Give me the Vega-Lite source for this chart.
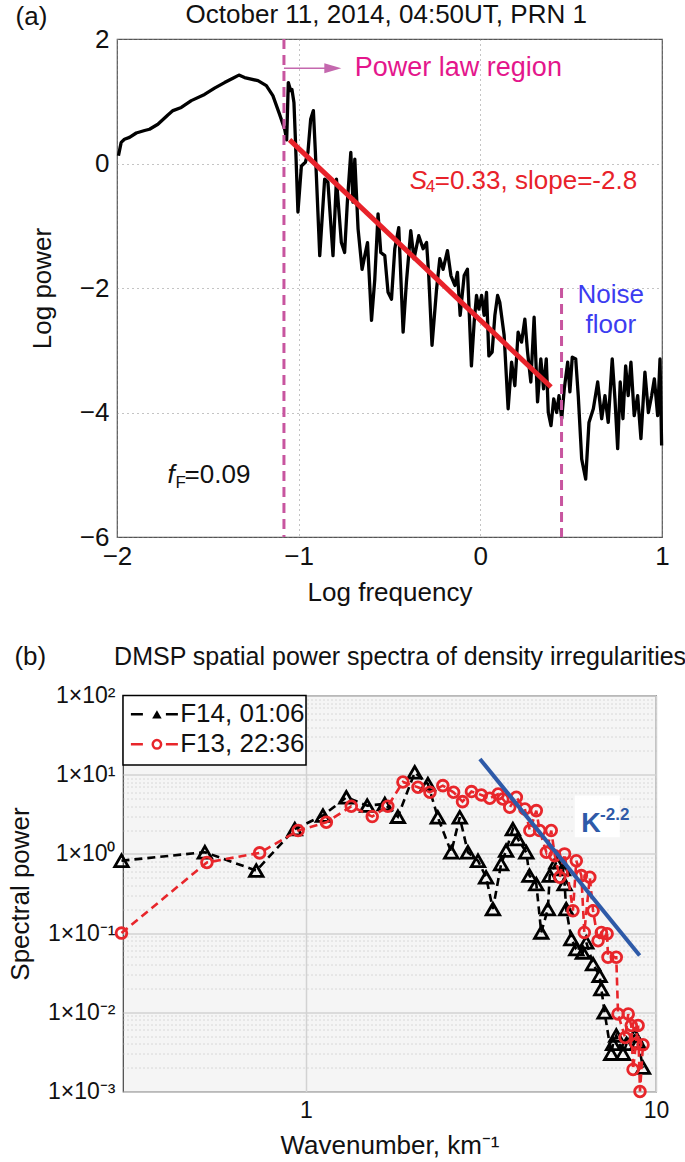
{
  "$schema": "https://vega.github.io/schema/vega-lite/v6.json",
  "background": "white",
  "padding": {"left": 6, "top": 0, "right": 0, "bottom": 5},
  "bounds": "flush",
  "center": true,
  "spacing": 158.5,
  "config": {
    "font": "Liberation Sans",
    "axis": {"labelFont": "Liberation Sans", "titleFont": "Liberation Sans", "labelFontSize": 25, "titleFontSize": 26, "titleFontWeight": "normal", "labelColor": "#111", "titleColor": "#111", "ticks": false, "domain": false, "labelFlush": false, "labelOverlap": false},
    "text": {"font": "Liberation Sans"}
  },
  "datasets": {
    "curve": [
      {"x": -1.992, "y": 0.125}, {"x": -1.977, "y": 0.34}, {"x": -1.959, "y": 0.39}, {"x": -1.931, "y": 0.42}, {"x": -1.894, "y": 0.49}, {"x": -1.848, "y": 0.53}, {"x": -1.821, "y": 0.55}, {"x": -1.775, "y": 0.63}, {"x": -1.72, "y": 0.78}, {"x": -1.692, "y": 0.85}, {"x": -1.646, "y": 0.9}, {"x": -1.591, "y": 1.01}, {"x": -1.518, "y": 1.11}, {"x": -1.463, "y": 1.21}, {"x": -1.408, "y": 1.3}, {"x": -1.362, "y": 1.37}, {"x": -1.329, "y": 1.42}, {"x": -1.298, "y": 1.38}, {"x": -1.224, "y": 1.33}, {"x": -1.178, "y": 1.25}, {"x": -1.142, "y": 1.09}, {"x": -1.105, "y": 0.79}, {"x": -1.077, "y": 0.55}, {"x": -1.066, "y": 0.38},
      {"x": -1.057, "y": 1.3}, {"x": -1.044, "y": 1.17}, {"x": -1.037, "y": 1.19}, {"x": -1.026, "y": 0.98}, {"x": -1.018, "y": 0.39}, {"x": -1.004, "y": -0.78}, {"x": -0.985, "y": -0.04}, {"x": -0.963, "y": 0.02}, {"x": -0.949, "y": 0.18}, {"x": -0.934, "y": 0.71}, {"x": -0.919, "y": 0.85}, {"x": -0.908, "y": 0.18}, {"x": -0.884, "y": -1.48}, {"x": -0.857, "y": -0.25}, {"x": -0.839, "y": -0.3}, {"x": -0.811, "y": -1.48}, {"x": -0.792, "y": -0.25}, {"x": -0.765, "y": -1.27}, {"x": -0.747, "y": -1.43}, {"x": -0.732, "y": -0.62}, {"x": -0.713, "y": 0.18}, {"x": -0.701, "y": -0.62}, {"x": -0.691, "y": 0.07}, {"x": -0.673, "y": -1.05}, {"x": -0.651, "y": -1.7}, {"x": -0.636, "y": -1.48}, {"x": -0.621, "y": -1.27}, {"x": -0.599, "y": -2.52}, {"x": -0.581, "y": -1.86}, {"x": -0.563, "y": -0.81}, {"x": -0.548, "y": -1.43}, {"x": -0.526, "y": -1.48}, {"x": -0.508, "y": -2.07}, {"x": -0.489, "y": -2.18}, {"x": -0.471, "y": -1.37}, {"x": -0.449, "y": -1.03}, {"x": -0.425, "y": -2.71}, {"x": -0.407, "y": -1.91}, {"x": -0.383, "y": -1.08}, {"x": -0.365, "y": -1.53}, {"x": -0.339, "y": -1.16}, {"x": -0.315, "y": -1.37}, {"x": -0.296, "y": -1.27}, {"x": -0.284, "y": -1.8}, {"x": -0.266, "y": -2.92}, {"x": -0.241, "y": -2.02}, {"x": -0.223, "y": -1.53}, {"x": -0.205, "y": -1.7}, {"x": -0.181, "y": -1.4}, {"x": -0.162, "y": -1.8}, {"x": -0.14, "y": -1.96}, {"x": -0.126, "y": -1.75}, {"x": -0.111, "y": -2.44}, {"x": -0.089, "y": -1.8}, {"x": -0.071, "y": -1.7}, {"x": -0.049, "y": -3.25}, {"x": -0.034, "y": -2.55}, {"x": -0.021, "y": -2.12}, {"x": -0.008, "y": -2.34}, {"x": 0.007, "y": -2.12}, {"x": 0.021, "y": -2.44}, {"x": 0.034, "y": -2.07}, {"x": 0.047, "y": -3.09}, {"x": 0.065, "y": -3.03}, {"x": 0.08, "y": -2.44}, {"x": 0.095, "y": -2.12}, {"x": 0.107, "y": -2.23}, {"x": 0.131, "y": -2.76}, {"x": 0.153, "y": -3.94}, {"x": 0.172, "y": -3.19}, {"x": 0.19, "y": -3.57}, {"x": 0.208, "y": -2.71}, {"x": 0.227, "y": -2.87}, {"x": 0.245, "y": -2.5}, {"x": 0.26, "y": -3.03}, {"x": 0.278, "y": -3.51}, {"x": 0.296, "y": -2.47}, {"x": 0.315, "y": -3.83}, {"x": 0.333, "y": -3.14}, {"x": 0.348, "y": -3.62}, {"x": 0.363, "y": -3.14}, {"x": 0.374, "y": -4.0}, {"x": 0.389, "y": -4.21}, {"x": 0.404, "y": -3.78}, {"x": 0.42, "y": -4.0}, {"x": 0.433, "y": -3.73}, {"x": 0.448, "y": -4.1}, {"x": 0.462, "y": -3.62}, {"x": 0.481, "y": -3.19}, {"x": 0.493, "y": -3.67}, {"x": 0.506, "y": -3.11}, {"x": 0.525, "y": -3.14}, {"x": 0.539, "y": -3.73}, {"x": 0.558, "y": -4.75}, {"x": 0.58, "y": -5.07}, {"x": 0.598, "y": -4.16}, {"x": 0.622, "y": -3.94}, {"x": 0.646, "y": -3.51}, {"x": 0.668, "y": -4.1}, {"x": 0.686, "y": -3.73}, {"x": 0.704, "y": -4.16}, {"x": 0.726, "y": -3.14}, {"x": 0.741, "y": -3.78}, {"x": 0.756, "y": -4.58}, {"x": 0.77, "y": -3.51}, {"x": 0.785, "y": -4.1}, {"x": 0.8, "y": -3.25}, {"x": 0.814, "y": -3.73}, {"x": 0.829, "y": -3.19}, {"x": 0.847, "y": -4.05}, {"x": 0.866, "y": -3.73}, {"x": 0.884, "y": -4.42}, {"x": 0.906, "y": -3.35}, {"x": 0.925, "y": -4.0}, {"x": 0.943, "y": -3.73}, {"x": 0.958, "y": -3.46}, {"x": 0.976, "y": -4.05}, {"x": 0.989, "y": -3.14}, {"x": 0.998, "y": -4.53}
    ],
    "spectra": [
      {"s": "F14", "x": 0.297, "y": 0.82}, {"s": "F14", "x": 0.514, "y": 1.05}, {"s": "F14", "x": 0.721, "y": 0.615}, {"s": "F14", "x": 0.929, "y": 2.06}, {"s": "F14", "x": 1.118, "y": 3.05}, {"s": "F14", "x": 1.304, "y": 5.18}, {"s": "F14", "x": 1.496, "y": 4.07}, {"s": "F14", "x": 1.679, "y": 4.27}, {"s": "F14", "x": 1.83, "y": 2.95}, {"s": "F14", "x": 2.045, "y": 10.7}, {"s": "F14", "x": 2.23, "y": 7.63}, {"s": "F14", "x": 2.38, "y": 2.9}, {"s": "F14", "x": 2.6, "y": 1.05}, {"s": "F14", "x": 2.75, "y": 2.9}, {"s": "F14", "x": 2.9, "y": 1.05}, {"s": "F14", "x": 3.1, "y": 0.82}, {"s": "F14", "x": 3.27, "y": 0.507}, {"s": "F14", "x": 3.42, "y": 0.201}, {"s": "F14", "x": 3.61, "y": 0.745}, {"s": "F14", "x": 3.73, "y": 1.1}, {"s": "F14", "x": 3.9, "y": 2.06}, {"s": "F14", "x": 4.03, "y": 1.54}, {"s": "F14", "x": 4.26, "y": 1.05}, {"s": "F14", "x": 4.35, "y": 0.532}, {"s": "F14", "x": 4.55, "y": 0.417}, {"s": "F14", "x": 4.7, "y": 0.102}, {"s": "F14", "x": 4.91, "y": 0.201}, {"s": "F14", "x": 4.97, "y": 0.532}, {"s": "F14", "x": 5.19, "y": 0.783}, {"s": "F14", "x": 5.42, "y": 0.645}, {"s": "F14", "x": 5.48, "y": 0.417}, {"s": "F14", "x": 5.54, "y": 0.201}, {"s": "F14", "x": 5.73, "y": 0.084}, {"s": "F14", "x": 5.92, "y": 0.063}, {"s": "F14", "x": 6.18, "y": 0.057}, {"s": "F14", "x": 6.32, "y": 0.0765}, {"s": "F14", "x": 6.61, "y": 0.0407}, {"s": "F14", "x": 6.9, "y": 0.029}, {"s": "F14", "x": 6.98, "y": 0.0197}, {"s": "F14", "x": 7.13, "y": 0.01}, {"s": "F14", "x": 7.45, "y": 0.003}, {"s": "F14", "x": 7.54, "y": 0.004}, {"s": "F14", "x": 7.7, "y": 0.0051}, {"s": "F14", "x": 8.05, "y": 0.003}, {"s": "F14", "x": 8.24, "y": 0.004}, {"s": "F14", "x": 8.69, "y": 0.0051}, {"s": "F14", "x": 8.89, "y": 0.0042}, {"s": "F14", "x": 9.18, "y": 0.002},
      {"s": "F13", "x": 0.297, "y": 0.1}, {"s": "F13", "x": 0.521, "y": 0.78}, {"s": "F13", "x": 0.737, "y": 1.03}, {"s": "F13", "x": 0.949, "y": 1.97}, {"s": "F13", "x": 1.143, "y": 2.51}, {"s": "F13", "x": 1.347, "y": 3.99}, {"s": "F13", "x": 1.546, "y": 2.96}, {"s": "F13", "x": 1.713, "y": 4.0}, {"s": "F13", "x": 1.892, "y": 8.1}, {"s": "F13", "x": 2.089, "y": 6.93}, {"s": "F13", "x": 2.26, "y": 6.0}, {"s": "F13", "x": 2.46, "y": 7.28}, {"s": "F13", "x": 2.64, "y": 6.0}, {"s": "F13", "x": 2.8, "y": 4.57}, {"s": "F13", "x": 2.97, "y": 6.12}, {"s": "F13", "x": 3.17, "y": 5.55}, {"s": "F13", "x": 3.35, "y": 5.04}, {"s": "F13", "x": 3.54, "y": 5.7}, {"s": "F13", "x": 3.65, "y": 4.93}, {"s": "F13", "x": 3.82, "y": 3.88}, {"s": "F13", "x": 3.99, "y": 5.18}, {"s": "F13", "x": 4.22, "y": 3.69}, {"s": "F13", "x": 4.36, "y": 1.97}, {"s": "F13", "x": 4.55, "y": 3.52}, {"s": "F13", "x": 4.65, "y": 1.97}, {"s": "F13", "x": 4.86, "y": 1.05}, {"s": "F13", "x": 5.02, "y": 1.97}, {"s": "F13", "x": 5.14, "y": 0.95}, {"s": "F13", "x": 5.31, "y": 0.507}, {"s": "F13", "x": 5.48, "y": 1.0}, {"s": "F13", "x": 5.79, "y": 0.192}, {"s": "F13", "x": 5.92, "y": 0.82}, {"s": "F13", "x": 6.12, "y": 0.532}, {"s": "F13", "x": 6.24, "y": 0.102}, {"s": "F13", "x": 6.47, "y": 0.507}, {"s": "F13", "x": 6.61, "y": 0.192}, {"s": "F13", "x": 6.83, "y": 0.08}, {"s": "F13", "x": 6.98, "y": 0.102}, {"s": "F13", "x": 7.25, "y": 0.098}, {"s": "F13", "x": 7.29, "y": 0.0495}, {"s": "F13", "x": 7.7, "y": 0.0495}, {"s": "F13", "x": 7.79, "y": 0.0095}, {"s": "F13", "x": 8.16, "y": 0.0048}, {"s": "F13", "x": 8.33, "y": 0.0095}, {"s": "F13", "x": 8.5, "y": 0.0068}, {"s": "F13", "x": 8.6, "y": 0.0019}, {"s": "F13", "x": 8.76, "y": 0.004}, {"s": "F13", "x": 8.89, "y": 0.0068}, {"s": "F13", "x": 9.0, "y": 0.001}, {"s": "F13", "x": 9.18, "y": 0.0039}
    ]
  },
  "vconcat": [
    {
      "width": 545,
      "height": 498,
      "view": {"stroke": "#555", "strokeWidth": 1.2},
      "layer": [
        {
          "data": {"name": "curve"},
          "mark": {"type": "line", "color": "black", "strokeWidth": 3.3, "strokeJoin": "round"},
          "encoding": {
            "x": {"field": "x", "type": "quantitative", "scale": {"domain": [-2, 1], "nice": false, "zero": false},
                  "axis": {"values": [-2, -1, 0, 1], "format": "d", "title": "Log frequency", "grid": true, "gridDash": [1, 4], "gridColor": "#888", "labelFontSize": 26, "labelPadding": 6, "titlePadding": 10}},
            "y": {"field": "y", "type": "quantitative", "scale": {"domain": [-6, 2], "nice": false, "zero": false},
                  "axis": {"values": [-6, -4, -2, 0, 2], "format": "d", "title": "Log power", "grid": true, "gridDash": [1, 4], "gridColor": "#888", "labelFontSize": 26, "labelPadding": 8, "titlePadding": 24}}
          }
        },
        {
          "data": {"values": [{"x": -1.081, "y": 2, "y2": -6}, {"x": 0.447, "y": -2.0, "y2": -6}]},
          "mark": {"type": "rule", "color": "#c8559f", "strokeWidth": 3, "strokeDash": [10, 6]},
          "encoding": {"x": {"field": "x", "type": "quantitative"}, "y": {"field": "y", "type": "quantitative"}, "y2": {"field": "y2"}}
        },
        {
          "data": {"values": [{"x": -1.05, "y": 0.38}, {"x": 0.389, "y": -3.59}]},
          "mark": {"type": "line", "color": "#e8222a", "strokeWidth": 5},
          "encoding": {"x": {"field": "x", "type": "quantitative"}, "y": {"field": "y", "type": "quantitative"}}
        },
        {
          "data": {"values": [{"x": -1.081, "x2": -0.812, "y": 1.53}]},
          "mark": {"type": "rule", "color": "#c468ae", "strokeWidth": 1.5},
          "encoding": {"x": {"field": "x", "type": "quantitative"}, "x2": {"field": "x2"}, "y": {"field": "y", "type": "quantitative"}}
        },
        {
          "data": {"values": [{"x": -0.812, "y": 1.53}]},
          "mark": {"type": "point", "shape": "M -1 -0.6 L 1 0 L -1 0.6 Z", "filled": true, "color": "#c468ae", "size": 289, "opacity": 1},
          "encoding": {"x": {"field": "x", "type": "quantitative"}, "y": {"field": "y", "type": "quantitative"}}
        },
        {
          "data": {"values": [{"x": -0.691, "y": 1.53, "t": "Power law region"}]},
          "mark": {"type": "text", "align": "left", "baseline": "middle", "fontSize": 27, "color": "#e4168c"},
          "encoding": {"x": {"field": "x", "type": "quantitative"}, "y": {"field": "y", "type": "quantitative"}, "text": {"field": "t"}}
        },
        {
          "data": {"values": [{"x": -0.388, "y": -0.405, "t": "S"}]},
          "mark": {"type": "text", "align": "left", "baseline": "alphabetic", "fontSize": 26, "fontStyle": "italic", "color": "#e8222a"},
          "encoding": {"x": {"field": "x", "type": "quantitative"}, "y": {"field": "y", "type": "quantitative"}, "text": {"field": "t"}}
        },
        {
          "data": {"values": [{"x": -0.3, "y": -0.464, "t": "4"}]},
          "mark": {"type": "text", "align": "left", "baseline": "alphabetic", "fontSize": 17, "color": "#e8222a"},
          "encoding": {"x": {"field": "x", "type": "quantitative"}, "y": {"field": "y", "type": "quantitative"}, "text": {"field": "t"}}
        },
        {
          "data": {"values": [{"x": -0.251, "y": -0.405, "t": "=0.33, slope=-2.8"}]},
          "mark": {"type": "text", "align": "left", "baseline": "alphabetic", "fontSize": 26, "color": "#e8222a"},
          "encoding": {"x": {"field": "x", "type": "quantitative"}, "y": {"field": "y", "type": "quantitative"}, "text": {"field": "t"}}
        },
        {
          "data": {"values": [{"x": 0.718, "y": -2.12, "t": "Noise"}, {"x": 0.718, "y": -2.6, "t": "floor"}]},
          "mark": {"type": "text", "align": "center", "baseline": "middle", "fontSize": 26, "color": "#3c3cf0"},
          "encoding": {"x": {"field": "x", "type": "quantitative"}, "y": {"field": "y", "type": "quantitative"}, "text": {"field": "t"}}
        },
        {
          "data": {"values": [{"x": -1.722, "y": -5.135, "t": "f"}]},
          "mark": {"type": "text", "align": "left", "baseline": "alphabetic", "fontSize": 26, "fontStyle": "italic", "color": "#111"},
          "encoding": {"x": {"field": "x", "type": "quantitative"}, "y": {"field": "y", "type": "quantitative"}, "text": {"field": "t"}}
        },
        {
          "data": {"values": [{"x": -1.678, "y": -5.215, "t": "F"}]},
          "mark": {"type": "text", "align": "left", "baseline": "alphabetic", "fontSize": 17, "color": "#111"},
          "encoding": {"x": {"field": "x", "type": "quantitative"}, "y": {"field": "y", "type": "quantitative"}, "text": {"field": "t"}}
        },
        {
          "data": {"values": [{"x": -1.628, "y": -5.135, "t": "=0.09"}]},
          "mark": {"type": "text", "align": "left", "baseline": "alphabetic", "fontSize": 26, "color": "#111"},
          "encoding": {"x": {"field": "x", "type": "quantitative"}, "y": {"field": "y", "type": "quantitative"}, "text": {"field": "t"}}
        },
        {
          "data": {"values": [{"x": -2.471, "y": 2.361, "t": "(a)"}]},
          "mark": {"type": "text", "align": "center", "baseline": "middle", "fontSize": 26, "color": "#111"},
          "encoding": {"x": {"field": "x", "type": "quantitative"}, "y": {"field": "y", "type": "quantitative"}, "text": {"field": "t"}}
        },
        {
          "data": {"values": [{"x": -0.518, "y": 2.393, "t": "October 11, 2014, 04:50UT, PRN 1"}]},
          "mark": {"type": "text", "align": "center", "baseline": "middle", "fontSize": 26, "color": "#111"},
          "encoding": {"x": {"field": "x", "type": "quantitative"}, "y": {"field": "y", "type": "quantitative"}, "text": {"field": "t"}}
        }
      ]
    },
    {
      "width": 533,
      "height": 396,
      "view": {"fill": "#f5f5f5", "stroke": "#444", "strokeWidth": 1.2},
      "layer": [
        {
          "data": {"name": "spectra"},
          "transform": [{"filter": "datum.s == 'F14'"}],
          "mark": {"type": "line", "color": "black", "strokeWidth": 2.6, "strokeDash": [8, 5]},
          "encoding": {
            "x": {"field": "x", "type": "quantitative", "scale": {"type": "log", "domain": [0.3, 10], "nice": false},
                  "axis": {"values": [1, 10], "labelExpr": "datum.value == 1 ? '1' : '10'", "title": "Wavenumber, km⁻¹", "grid": true, "gridColor": "#d2d2d2", "gridWidth": 1.5, "labelFontSize": 23, "labelPadding": 8, "titlePadding": 10}},
            "y": {"field": "y", "type": "quantitative", "scale": {"type": "log", "domain": [0.001, 100], "nice": false},
                  "axis": {
                    "values": [0.001, 0.002, 0.003, 0.004, 0.005, 0.006, 0.007, 0.008, 0.009, 0.01, 0.02, 0.03, 0.04, 0.05, 0.06, 0.07, 0.08, 0.09, 0.1, 0.2, 0.3, 0.4, 0.5, 0.6, 0.7, 0.8, 0.9, 1, 2, 3, 4, 5, 6, 7, 8, 9, 10, 20, 30, 40, 50, 60, 70, 80, 90, 100],
                    "labelExpr": "datum.value == 100 ? '1×10²' : datum.value == 10 ? '1×10¹' : datum.value == 1 ? '1×10⁰' : datum.value == 0.1 ? '1×10⁻¹' : datum.value == 0.01 ? '1×10⁻²' : datum.value == 0.001 ? '1×10⁻³' : ''",
                    "title": "Spectral power", "grid": true, "labelFontSize": 23,
                    "gridColor": {"condition": {"test": "abs(log(datum.value)/LN10 - round(log(datum.value)/LN10)) < 0.001", "value": "#d2d2d2"}, "value": "#bdbdbd"},
                    "gridDash": {"condition": {"test": "abs(log(datum.value)/LN10 - round(log(datum.value)/LN10)) < 0.001", "value": []}, "value": [1, 3]},
                    "gridWidth": {"condition": {"test": "abs(log(datum.value)/LN10 - round(log(datum.value)/LN10)) < 0.001", "value": 1.5}, "value": 1},
                    "labelPadding": 8, "titlePadding": 14}}
          }
        },
        {
          "data": {"name": "spectra"},
          "transform": [{"filter": "datum.s == 'F14'"}],
          "mark": {"type": "point", "shape": "triangle-up", "filled": false, "color": "black", "strokeWidth": 2.8, "size": 180, "opacity": 1},
          "encoding": {"x": {"field": "x", "type": "quantitative"}, "y": {"field": "y", "type": "quantitative"}}
        },
        {
          "data": {"name": "spectra"},
          "transform": [{"filter": "datum.s == 'F13'"}],
          "mark": {"type": "line", "color": "#e8262b", "strokeWidth": 2.6, "strokeDash": [8, 5]},
          "encoding": {"x": {"field": "x", "type": "quantitative"}, "y": {"field": "y", "type": "quantitative"}}
        },
        {
          "data": {"name": "spectra"},
          "transform": [{"filter": "datum.s == 'F13'"}],
          "mark": {"type": "point", "shape": "circle", "filled": false, "color": "#e8262b", "strokeWidth": 2.8, "size": 115, "opacity": 1},
          "encoding": {"x": {"field": "x", "type": "quantitative"}, "y": {"field": "y", "type": "quantitative"}}
        },
        {
          "data": {"values": [{"x": 3.14, "y": 15.8}, {"x": 8.98, "y": 0.052}]},
          "mark": {"type": "line", "color": "#2e5aa8", "strokeWidth": 4},
          "encoding": {"x": {"field": "x", "type": "quantitative"}, "y": {"field": "y", "type": "quantitative"}}
        },
        {
          "data": {"values": [{"x": 5.86, "x2": 7.88, "y": 5.45, "y2": 1.62}]},
          "mark": {"type": "rect", "fill": "white"},
          "encoding": {"x": {"field": "x", "type": "quantitative"}, "x2": {"field": "x2"}, "y": {"field": "y", "type": "quantitative"}, "y2": {"field": "y2"}}
        },
        {
          "data": {"values": [{"x": 6.52, "y": 1.87, "t": "K"}]},
          "mark": {"type": "text", "align": "center", "baseline": "alphabetic", "fontSize": 27, "fontWeight": "bold", "color": "#2e5aa8"},
          "encoding": {"x": {"field": "x", "type": "quantitative"}, "y": {"field": "y", "type": "quantitative"}, "text": {"field": "t"}}
        },
        {
          "data": {"values": [{"x": 6.92, "y": 2.66, "t": "-2.2"}]},
          "mark": {"type": "text", "align": "left", "baseline": "alphabetic", "fontSize": 17, "fontWeight": "bold", "color": "#2e5aa8"},
          "encoding": {"x": {"field": "x", "type": "quantitative"}, "y": {"field": "y", "type": "quantitative"}, "text": {"field": "t"}}
        },
        {
          "data": {"values": [{"x": 0.3, "x2": 1.0, "y": 100, "y2": 13.25}]},
          "mark": {"type": "rect", "fill": "white", "stroke": "black", "strokeWidth": 1.5},
          "encoding": {"x": {"field": "x", "type": "quantitative"}, "x2": {"field": "x2"}, "y": {"field": "y", "type": "quantitative"}, "y2": {"field": "y2"}}
        },
        {
          "data": {"values": [{"x": 0.316, "x2": 0.431, "y": 57.9}]},
          "mark": {"type": "rule", "color": "black", "strokeWidth": 2.5, "strokeDash": [12, 23]},
          "encoding": {"x": {"field": "x", "type": "quantitative"}, "x2": {"field": "x2"}, "y": {"field": "y", "type": "quantitative"}}
        },
        {
          "data": {"values": [{"x": 0.316, "x2": 0.431, "y": 24.2}]},
          "mark": {"type": "rule", "color": "#e8262b", "strokeWidth": 2.5, "strokeDash": [12, 23]},
          "encoding": {"x": {"field": "x", "type": "quantitative"}, "x2": {"field": "x2"}, "y": {"field": "y", "type": "quantitative"}}
        },
        {
          "data": {"values": [{"x": 0.375, "y": 57.9}]},
          "mark": {"type": "point", "shape": "triangle-up", "filled": true, "color": "black", "size": 90, "opacity": 1},
          "encoding": {"x": {"field": "x", "type": "quantitative"}, "y": {"field": "y", "type": "quantitative"}}
        },
        {
          "data": {"values": [{"x": 0.375, "y": 24.2}]},
          "mark": {"type": "point", "shape": "circle", "filled": false, "color": "#e8262b", "strokeWidth": 2.5, "size": 70, "opacity": 1},
          "encoding": {"x": {"field": "x", "type": "quantitative"}, "y": {"field": "y", "type": "quantitative"}}
        },
        {
          "data": {"values": [{"x": 0.437, "y": 57.9, "t": "F14, 01:06"}, {"x": 0.437, "y": 24.2, "t": "F13, 22:36"}]},
          "mark": {"type": "text", "align": "left", "baseline": "middle", "fontSize": 26, "color": "#111"},
          "encoding": {"x": {"field": "x", "type": "quantitative"}, "y": {"field": "y", "type": "quantitative"}, "text": {"field": "t"}}
        },
        {
          "data": {"values": [{"x": 0.163, "y": 303, "t": "(b)"}]},
          "mark": {"type": "text", "align": "center", "baseline": "middle", "fontSize": 26, "color": "#111"},
          "encoding": {"x": {"field": "x", "type": "quantitative"}, "y": {"field": "y", "type": "quantitative"}, "text": {"field": "t"}}
        },
        {
          "data": {"values": [{"x": 1.857, "y": 303.5, "t": "DMSP spatial power spectra of density irregularities"}]},
          "mark": {"type": "text", "align": "center", "baseline": "middle", "fontSize": 25, "color": "#111"},
          "encoding": {"x": {"field": "x", "type": "quantitative"}, "y": {"field": "y", "type": "quantitative"}, "text": {"field": "t"}}
        }
      ]
    }
  ]
}
